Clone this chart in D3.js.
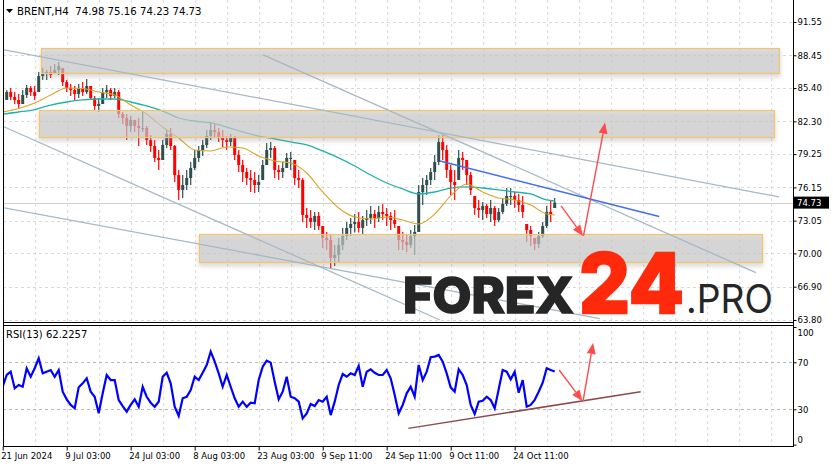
<!DOCTYPE html>
<html><head><meta charset="utf-8">
<script src="https://cdn.jsdelivr.net/npm/d3@7"></script>
<style>body{margin:0;background:#fff}svg{display:block}</style>
</head><body>
<svg id="c" width="833" height="466"></svg>
<script>
// ---------- DATA ----------
const symbol = "BRENT,H4";
const lastOHLC = ["74.98", "75.16", "74.23", "74.73"];
const lastPrice = 74.73;
const rsiLabel = "RSI(13) 62.2257";
const priceTicks = [91.55, 88.45, 85.40, 82.30, 79.25, 76.15, 73.05, 70.00, 66.90, 63.80];
const rsiTicks = [100, 70, 30, 0];
const rsiLevels = [70, 30];
const timeLabels = ["21 Jun 2024", "9 Jul 03:00", "24 Jul 03:00", "8 Aug 03:00", "23 Aug 03:00", "9 Sep 11:00", "24 Sep 11:00", "9 Oct 11:00", "24 Oct 11:00"];
const timeLabelBars = [0, 16, 32, 48, 64, 80, 96, 112, 128];

const highs = [84.75,85.22,85.41,85.03,84.85,85.22,85.68,85.59,85.59,86.89,87.27,87.08,87.45,87.64,87.83,87.27,86.15,85.78,85.59,85.78,
85.96,86.24,85.59,84.66,84.47,85.41,85.68,85.41,85.41,85.22,83.17,82.98,82.80,82.43,82.61,83.17,81.87,81.03,80.56,79.63,
80.56,81.49,81.68,80.10,77.77,77.30,77.77,78.51,79.63,80.00,80.56,81.49,82.24,82.05,81.68,81.49,80.93,81.12,80.93,79.63,
78.70,77.96,77.77,77.58,77.30,78.70,80.28,80.38,80.00,78.23,78.51,79.35,79.45,78.70,77.77,77.02,74.23,74.05,73.86,73.86,
72.55,72.00,71.72,70.79,71.44,72.37,72.93,73.30,73.67,73.86,73.49,74.05,74.42,74.05,74.42,74.61,74.23,73.86,74.05,72.55,
72.00,71.81,72.18,72.65,76.37,77.02,77.30,77.96,79.17,81.03,81.03,80.10,78.23,77.77,79.63,79.45,78.70,77.58,75.35,74.98,
74.79,74.61,74.98,74.42,74.23,75.16,76.09,76.09,75.72,75.54,75.35,72.74,72.55,71.44,72.00,72.93,74.42,74.98,75.16];
const lows = [83.82,84.29,84.29,83.91,83.54,83.91,84.47,84.66,84.29,85.03,86.15,86.15,86.34,86.71,86.62,85.59,85.03,84.66,84.29,84.47,
84.66,84.85,84.29,83.36,83.17,83.91,84.47,84.29,84.47,82.61,82.05,80.56,81.31,81.31,80.00,81.31,80.10,79.45,78.51,77.77,
78.70,79.82,79.63,76.65,74.98,75.16,75.91,76.37,77.77,78.51,79.07,79.82,80.56,80.75,80.38,79.91,79.63,80.00,78.70,77.58,
76.65,76.37,75.72,75.63,75.72,76.84,78.23,78.89,77.02,76.84,77.02,77.96,77.77,76.37,76.09,72.93,72.37,72.37,72.18,72.18,
70.51,70.32,68.65,68.83,69.21,70.32,71.25,71.62,71.94,71.94,71.81,72.55,72.74,72.37,72.93,73.11,72.55,72.18,72.37,70.32,
70.32,70.14,70.51,69.86,72.00,74.51,75.44,76.37,76.84,78.23,78.70,77.02,75.44,74.98,76.84,77.77,76.37,75.44,73.58,73.30,
73.11,73.30,72.93,72.55,72.93,73.67,74.42,74.51,74.23,73.86,73.30,71.07,70.69,70.32,70.51,71.44,72.37,72.93,74.23];
const closes = [84.29,85.03,84.57,84.29,83.91,84.75,85.41,85.03,84.66,86.52,86.71,86.89,86.62,87.08,87.45,85.96,85.41,85.22,84.85,85.41,
85.03,85.59,84.47,83.73,83.91,85.03,85.22,84.66,85.03,82.98,82.61,81.87,82.43,81.87,81.68,81.68,80.56,80.00,78.89,78.70,
80.10,81.12,80.00,77.30,75.91,76.37,77.02,77.96,78.89,79.63,80.10,80.93,81.49,81.31,80.84,80.56,80.38,80.75,79.17,78.23,
77.58,77.02,76.84,76.37,76.65,78.23,79.63,79.82,77.77,77.58,77.96,78.89,78.89,77.02,76.84,73.58,73.30,72.93,73.49,72.55,
71.44,71.25,69.58,69.86,70.79,71.62,72.37,72.74,72.93,72.37,73.11,73.30,73.67,73.30,73.86,73.67,73.49,73.11,72.74,71.25,
71.07,70.79,71.62,72.00,75.72,76.37,76.84,77.58,78.51,80.38,79.63,77.77,76.65,76.37,78.89,78.70,77.30,75.91,74.23,74.05,
74.42,73.67,74.23,73.11,73.86,74.61,75.35,75.35,74.98,74.51,73.86,72.18,71.62,70.88,71.62,72.55,73.86,73.67,74.73];

const rsiValues = [49.2,59.2,62.0,47.9,50.7,49.2,64.9,57.7,64.9,73.4,60.6,62.0,63.4,57.7,63.4,45.0,38.5,33.7,30.9,48.7,
52.1,56.4,45.0,40.7,26.6,43.6,59.2,54.9,54.9,37.9,32.8,28.0,33.7,38.5,32.2,49.2,40.7,35.6,32.2,36.5,
57.7,61.1,52.1,32.2,24.3,39.4,40.7,46.4,57.7,54.9,61.1,67.7,79.0,70.5,60.6,49.2,59.2,49.2,39.4,32.2,
36.5,32.2,35.6,35.1,54.9,66.3,71.4,69.7,53.5,38.5,45.0,57.7,40.7,39.4,36.5,22.3,26.6,34.5,32.8,37.9,
36.5,40.7,25.1,36.5,50.7,60.0,57.7,60.6,59.2,66.9,49.2,62.0,64.0,61.1,59.2,59.2,63.4,56.4,42.2,26.6,
33.7,43.6,49.2,40.7,67.7,54.9,62.0,74.3,74.8,76.2,70.5,60.6,48.7,45.0,64.0,59.2,50.7,33.7,26.0,36.5,
37.3,40.7,37.9,30.9,47.0,63.4,62.0,55.5,62.0,44.1,54.9,32.2,33.7,37.9,45.0,52.6,64.9,63.4,62.2];

const maBars = [0,4,8,12,16,20,24,28,32,36,40,44,48,52,56,60,64,68,72,76,80,84,88,92,96,100,104,108,112,116,120,124,128,132,136,138];
const maFast = [83.17,83.50,84.01,84.75,85.41,85.36,85.03,84.75,83.82,82.98,81.77,80.75,79.63,79.54,79.91,79.82,79.07,78.61,78.42,77.49,
75.72,74.23,73.39,73.21,73.39,73.11,72.74,73.67,75.35,76.47,75.72,75.16,74.98,74.51,73.67,73.58];
const maSlow = [82.98,83.17,83.40,83.82,84.10,84.29,84.38,84.38,84.10,83.73,83.26,82.61,82.33,82.15,81.77,81.31,80.93,80.66,80.38,80.10,
79.54,78.89,78.14,77.30,76.56,76.00,75.54,75.72,76.09,76.19,76.09,75.91,75.72,75.54,74.98,74.88];

// zones: [barFrom, barTo, priceTop, priceBottom]
const zones = [[9.6, 194.1, 89.13, 86.80], [9.1, 192.8, 83.36, 80.84], [49.1, 189.8, 71.81, 69.20]];
// channel lines: [[bar, price], [bar, price]]
const channelLines = [
  [[-0.7, 89.04], [194.1, 75.26]],
  [[65.1, 88.48], [188.3, 68.21]],
  [[-0.7, 81.96], [109.3, 63.80]],
  [[-0.7, 74.32], [149.3, 63.93]]
];
const resistanceLine = [[109.3, 78.61], [164.1, 73.44]];
const priceArrows = [[[139.6, 74.42], [145.1, 71.63]], [[145.2, 71.63], [150.6, 82.19]]];
const rsiTrend = [[101.4, 13.8], [159.5, 45.0]];
const rsiArrows = [[[139.1, 63.4], [144.95, 37.1]], [[145.1, 37.1], [147.6, 86.4]]];

// ---------- DRAW ----------
const svg = d3.select("#c");
const FONT = "DejaVu Sans";
const L = 3, R = 793, mainTop = 0, mainBot = 322, rsiTop = 325, rsiBot = 446;

const x = d3.scaleLinear().domain([0, 138]).range([2.7, 554.7]);
const y = d3.scaleLinear().domain([63.80, 91.55]).range([320, 22]);
const yr = d3.scaleLinear().domain([0, 100]).range([444.6, 327]);

const defs = svg.append("defs");
defs.append("clipPath").attr("id", "cm").append("rect").attr("x", L).attr("y", mainTop).attr("width", R - L).attr("height", mainBot - mainTop);
defs.append("clipPath").attr("id", "cr").append("rect").attr("x", L).attr("y", rsiTop).attr("width", R - L).attr("height", rsiBot - rsiTop);
const f = defs.append("filter").attr("id", "sh").attr("x", "-5%").attr("y", "-30%").attr("width", "110%").attr("height", "180%");
f.append("feDropShadow").attr("dx", 0).attr("dy", 3).attr("stdDeviation", 2.2).attr("flood-color", "#888").attr("flood-opacity", 0.45);

const gMain = svg.append("g").attr("clip-path", "url(#cm)");
const gRsi = svg.append("g").attr("clip-path", "url(#cr)");

// grid
const gridBars = d3.range(0, 200, 8);
const gridColor = "#d9d9d9";
[[gMain, mainTop, mainBot], [gRsi, rsiTop, rsiBot]].forEach(([g, t, b]) => {
  g.selectAll(null).data(gridBars).enter().append("line")
    .attr("x1", d => x(d) + 1).attr("x2", d => x(d) + 1).attr("y1", t).attr("y2", b)
    .attr("stroke", gridColor).attr("stroke-dasharray", "3,3");
});
gMain.selectAll(null).data(priceTicks).enter().append("line")
  .attr("x1", L).attr("x2", R).attr("y1", d => Math.round(y(d)) + 0.5).attr("y2", d => Math.round(y(d)) + 0.5)
  .attr("stroke", gridColor).attr("stroke-dasharray", "3,3");
gRsi.selectAll(null).data(rsiLevels).enter().append("line")
  .attr("x1", L).attr("x2", R).attr("y1", d => Math.round(yr(d)) + 0.5).attr("y2", d => Math.round(yr(d)) + 0.5)
  .attr("stroke", "#b8b8b8").attr("stroke-dasharray", "3,3");

// bid line
gMain.append("line").attr("x1", L).attr("x2", R).attr("y1", Math.round(y(lastPrice)) + 0.5).attr("y2", Math.round(y(lastPrice)) + 0.5)
  .attr("stroke", "#cfcfcf");

// candles
const bars = closes.map((c, i) => {
  const o0 = i ? closes[i - 1] : c;
  const o = Math.max(lows[i], Math.min(highs[i], o0));
  return { i, o, h: highs[i], l: lows[i], c };
});
const cg = gMain.append("g");
bars.forEach(b => {
  const col = b.c >= b.o ? "#2f4f4f" : "#ff0000";
  cg.append("line").attr("x1", x(b.i)).attr("x2", x(b.i)).attr("y1", y(b.h)).attr("y2", y(b.l)).attr("stroke", col).attr("stroke-width", 1.2);
  const top = y(Math.max(b.o, b.c)), bot = y(Math.min(b.o, b.c));
  cg.append("rect").attr("x", x(b.i) - 1.5).attr("width", 3).attr("y", top).attr("height", Math.max(1, bot - top)).attr("fill", col);
});

// moving averages
const maLine = d3.line().x((d, i) => x(maBars[i])).y(d => y(d)).curve(d3.curveMonotoneX);
gMain.append("path").attr("d", maLine(maSlow)).attr("fill", "none").attr("stroke", "#20b2aa").attr("stroke-width", 1.3);
gMain.append("path").attr("d", maLine(maFast)).attr("fill", "none").attr("stroke", "#daa520").attr("stroke-width", 1.1);

// zones
gMain.selectAll(null).data(zones).enter().append("rect")
  .attr("x", d => Math.round(x(d[0])) + 0.5).attr("y", d => Math.round(y(d[2])) + 0.5)
  .attr("width", d => Math.round(x(d[1]) - x(d[0]))).attr("height", d => Math.round(y(d[3]) - y(d[2])))
  .attr("fill", "rgba(205,205,205,0.6)").attr("stroke", "#f3c46a").attr("stroke-width", 1.2).attr("filter", "url(#sh)");

// channel lines
const seg = d3.line().x(d => x(d[0])).y(d => y(d[1]));
channelLines.forEach(l => gMain.append("path").attr("d", seg(l)).attr("stroke", "#a6b8c6").attr("stroke-width", 1.3).attr("fill", "none"));
gMain.append("path").attr("d", seg(resistanceLine)).attr("stroke", "#3f6ff0").attr("stroke-width", 1.5).attr("fill", "none");

function arrow(g, p0, p1, col) {
  const [x0, y0] = p0, [x1, y1] = p1;
  const a = Math.atan2(y1 - y0, x1 - x0), len = 11, w = 4.5;
  const bx = x1 - len * Math.cos(a), by = y1 - len * Math.sin(a);
  g.append("line").attr("x1", x0).attr("y1", y0).attr("x2", bx).attr("y2", by).attr("stroke", col).attr("stroke-width", 1.4);
  const px = -Math.sin(a) * w, py = Math.cos(a) * w;
  g.append("path").attr("d", `M${x1},${y1}L${bx + px},${by + py}L${bx - px},${by - py}Z`).attr("fill", col);
}
priceArrows.forEach(a => arrow(gMain, [x(a[0][0]), y(a[0][1])], [x(a[1][0]), y(a[1][1])], "#ff4b4b"));

// RSI
const rsiLine = d3.line().x((d, i) => x(i)).y(d => yr(d));
gRsi.append("path").attr("d", rsiLine(rsiValues)).attr("fill", "none").attr("stroke", "#0000ff").attr("stroke-width", 2.2).attr("stroke-linejoin", "miter");
gRsi.append("path").attr("d", d3.line().x(d => x(d[0])).y(d => yr(d[1]))(rsiTrend)).attr("stroke", "#8e4a4a").attr("stroke-width", 1.5).attr("fill", "none");
rsiArrows.forEach(a => arrow(gRsi, [x(a[0][0]), yr(a[0][1])], [x(a[1][0]), yr(a[1][1])], "#ff4b4b"));

// logo watermark
const lg = svg.append("g").attr("font-family", "Inter");
lg.append("text").attr("x", 403).attr("y", 313).text("FOREX").attr("font-weight", 800).attr("font-size", 50)
  .attr("fill", "#262626").attr("stroke", "#262626").attr("stroke-width", 1.6).attr("textLength", 171).attr("lengthAdjust", "spacingAndGlyphs");
lg.append("text").attr("x", 579).attr("y", 313).text("24").attr("font-weight", 800).attr("font-size", 83)
  .attr("fill", "#ff2a0c").attr("stroke", "#ff2a0c").attr("stroke-width", 2.6).attr("textLength", 105).attr("lengthAdjust", "spacingAndGlyphs");
lg.append("text").attr("x", 686).attr("y", 313).text(".PRO").attr("font-weight", 400).attr("font-size", 39)
  .attr("fill", "#262626").attr("textLength", 87).attr("lengthAdjust", "spacingAndGlyphs");

// frames
const frame = svg.append("g").attr("stroke", "#000").attr("shape-rendering", "crispEdges");
frame.append("line").attr("x1", L + 0.5).attr("x2", L + 0.5).attr("y1", 0).attr("y2", rsiBot);
frame.append("line").attr("x1", R + 0.5).attr("x2", R + 0.5).attr("y1", 0).attr("y2", rsiBot);
frame.append("line").attr("x1", L).attr("x2", R + 1).attr("y1", mainBot + 0.5).attr("y2", mainBot + 0.5);
frame.append("line").attr("x1", L).attr("x2", R + 1).attr("y1", rsiTop + 0.5).attr("y2", rsiTop + 0.5);

// axes
function styleAxis(g) {
  g.select(".domain").remove();
  g.selectAll("line").attr("stroke", "#000");
  g.selectAll("text").attr("font-family", FONT).attr("font-size", 8.5).attr("fill", "#000");
}
svg.append("g").attr("transform", `translate(${R + 0.5},0)`)
  .call(d3.axisRight(y).tickValues(priceTicks).tickFormat(d3.format(".2f")).tickSize(3).tickPadding(1))
  .call(styleAxis);
const ra = svg.append("g").attr("transform", `translate(${R + 0.5},0)`)
  .call(d3.axisRight(yr).tickValues(rsiTicks).tickFormat(d3.format("d")).tickSize(3).tickPadding(1))
  .call(styleAxis);
ra.selectAll(".tick text").attr("dy", d => d === 100 ? "0.95em" : d === 0 ? "-0.3em" : "0.32em");

const xa = svg.append("g").attr("transform", `translate(0,${rsiBot + 0.5})`)
  .call(d3.axisBottom(x).tickValues(timeLabelBars).tickFormat((d, i) => timeLabels[i]).tickSize(4).tickPadding(2))
  .call(styleAxis);
xa.selectAll(".tick text").attr("text-anchor", "start").attr("x", -2);
svg.append("line").attr("x1", L).attr("x2", R + 1).attr("y1", rsiBot + 0.5).attr("y2", rsiBot + 0.5).attr("stroke", "#000");

// current price tag
const py = y(lastPrice);
svg.append("rect").attr("x", R + 1).attr("y", py - 6).attr("width", 35).attr("height", 12).attr("fill", "#000");
svg.append("text").attr("x", R + 4).attr("y", py + 3.2).text(d3.format(".2f")(lastPrice))
  .attr("font-family", FONT).attr("font-size", 8.5).attr("fill", "#fff");

// header
svg.append("path").attr("d", "M6,9L13,9L9.5,13Z").attr("fill", "#000");
svg.append("text").attr("x", 17).attr("y", 15).attr("font-family", FONT).attr("font-size", 10.2).attr("fill", "#000")
  .attr("xml:space", "preserve").text(symbol + "  " + lastOHLC.join(" "));
svg.append("text").attr("x", 6).attr("y", 338).attr("font-family", FONT).attr("font-size", 10).attr("fill", "#000").text(rsiLabel);
</script>
</body></html>
